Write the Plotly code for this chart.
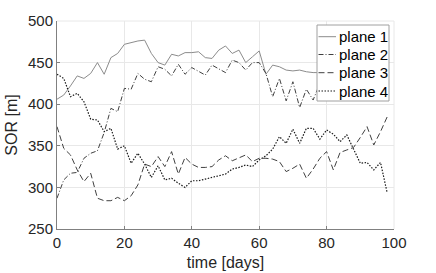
import plotly.graph_objects as go

days = list(range(0, 100, 2))

plane1 = [406, 411, 422, 434, 431, 437, 450, 436, 456, 461,
          472, 474, 476, 477, 461, 450, 447, 460, 458, 462,
          462, 463, 456, 455, 465, 470, 461, 465, 450, 457,
          464, 436, 447, 445, 441, 440, 441, 439, 438, 438,
          437, 439, 436, 438, 437, 436, 438, 437, 436, 438]

plane2 = [287, 309, 317, 318, 335, 341, 344, 366, 395, 391,
          419, 418, 437, 430, 427, 445, 442, 434, 448, 436,
          444, 440, 435, 447, 442, 438, 453, 450, 441, 450,
          450, 437, 409, 431, 404, 427, 396, 418, 405, 425,
          440, 430, 445, 435, 450, 440, 455, 445, 450, 440]

plane3 = [373, 347, 339, 321, 307, 317, 287, 284, 284, 288,
          284, 290, 303, 328, 325, 337, 325, 343, 316, 336,
          328, 324, 324, 325, 333, 338, 332, 336, 339, 331,
          335, 335, 334, 331, 319, 323, 328, 311, 322, 335,
          343, 321, 342, 345, 348, 360, 373, 351, 367, 385]

plane4 = [436, 431, 409, 413, 403, 382, 381, 367, 371, 346,
          350, 329, 341, 328, 312, 326, 309, 311, 305, 300,
          308, 308, 310, 312, 314, 316, 322, 324, 327, 325,
          333, 338, 346, 361, 353, 370, 353, 371, 371, 358,
          369, 364, 355, 363, 346, 329, 330, 321, 330, 293]

names = ["plane 1", "plane 2", "plane 3", "plane 4"]
series = [plane1, plane2, plane3, plane4]
colors = ["#8c8c8c", "#404040", "#404040", "#1a1a1a"]
dashes = ["solid", "5px,2px,1px,2px", "6px,3px", "1.5px,1.5px"]
widths = [1, 1, 1, 1.2]

L, R, T, B = 57, 42, 21, 44
W, H = 436, 273
PW, PH = W - L - R, H - T - B


def px_x(p):
    return (p - L) / PW


def px_y(p):
    return 1 - (p - T) / PH


fig = go.Figure()
for n, s, c, d, w in zip(names, series, colors, dashes, widths):
    fig.add_trace(go.Scatter(x=days, y=s, name=n, mode="lines",
                             line=dict(color=c, width=w, dash=d)))

axis_common = dict(showgrid=True, gridcolor="#e8e8e8", gridwidth=1,
                   zeroline=False, showline=True, linecolor="#808080",
                   linewidth=1, ticks="inside", ticklen=3, tickcolor="#808080",
                   tickfont=dict(size=15, color="#262626"), mirror=False,
                   automargin=False)

fig.update_layout(
    width=W, height=H,
    margin=dict(l=L, r=R, t=T, b=B),
    paper_bgcolor="white", plot_bgcolor="white",
    font=dict(family="Liberation Sans, Arial, sans-serif", color="#262626"),
    xaxis=dict(range=[0, 100], tickvals=[0, 20, 40, 60, 80, 100],
               title=dict(text="time [days]", font=dict(size=16), standoff=6),
               **axis_common),
    yaxis=dict(range=[250, 500], tickvals=[250, 300, 350, 400, 450, 500],
               title=dict(text="SOR [m]", font=dict(size=16), standoff=6),
               **axis_common),
    showlegend=False,
)

# top/right grid frame like reference
fig.add_shape(type="line", xref="paper", yref="paper", x0=0, x1=1, y0=1, y1=1,
              line=dict(color="#e8e8e8", width=1))
fig.add_shape(type="line", xref="paper", yref="paper", x0=1, x1=1, y0=0, y1=1,
              line=dict(color="#e8e8e8", width=1))

# legend box (drawn manually to match the reference's compact legend)
box_l, box_r, box_t, box_b = 317, 389, 25, 101
fig.add_shape(type="rect", xref="paper", yref="paper",
              x0=px_x(box_l), x1=px_x(box_r), y0=px_y(box_b), y1=px_y(box_t),
              line=dict(color="#a0a0a0", width=1), fillcolor="white", layer="above")
rows = [36.7, 54.5, 72.7, 91]
for n, c, d, w, ry in zip(names, colors, dashes, widths, rows):
    fig.add_shape(type="line", xref="paper", yref="paper",
                  x0=px_x(318.5), x1=px_x(336), y0=px_y(ry), y1=px_y(ry),
                  line=dict(color=c, width=w, dash=d), layer="above")
    fig.add_annotation(x=px_x(337), y=px_y(ry), xref="paper", yref="paper",
                       text=n, showarrow=False, xanchor="left", yanchor="middle",
                       font=dict(size=15, color="#000000"))

fig.write_html("out.html", config={"displayModeBar": False},
               post_script="document.body.style.margin='0';")
